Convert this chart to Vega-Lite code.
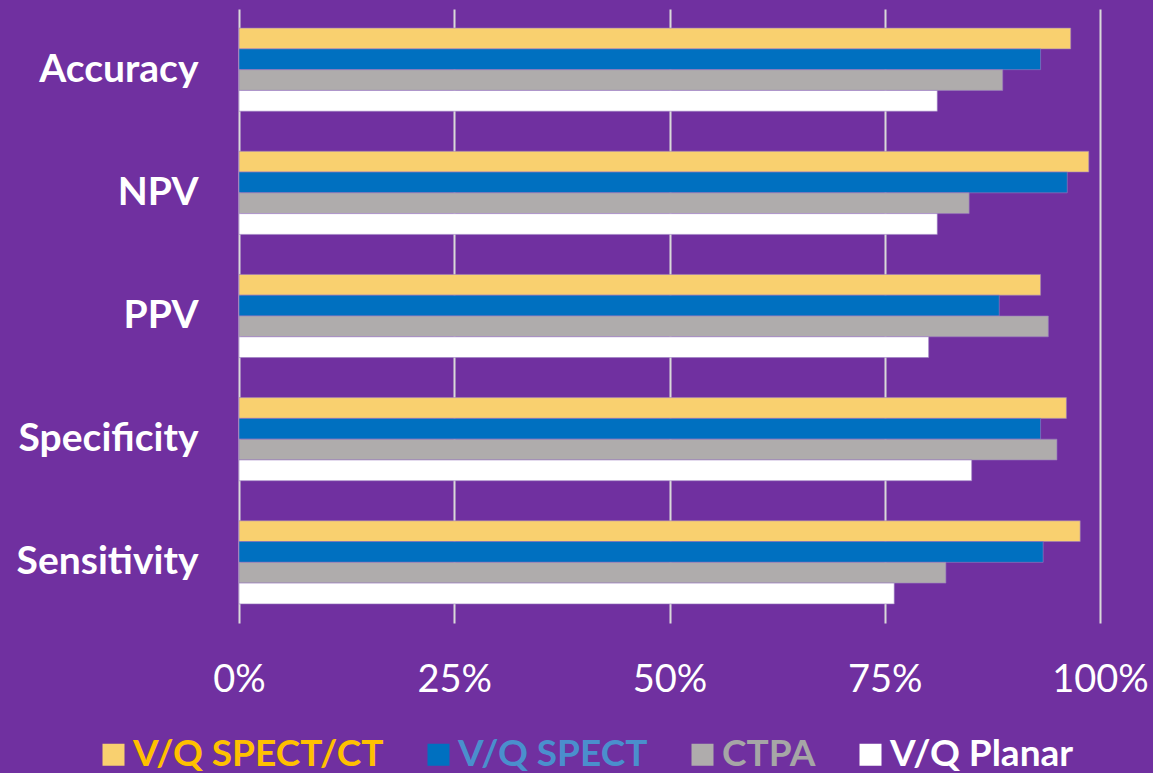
{
  "$schema": "https://vega.github.io/schema/vega-lite/v6.json",
  "width": 861,
  "height": 614,
  "autosize": {"type": "none"},
  "padding": {"left": 239, "top": 9, "right": 53, "bottom": 150},
  "background": "#7030A0",
  "config": {"view": {"stroke": null}, "font": "Lato"},
  "data": {"values": [
    {"metric": "Accuracy", "method": "V/Q SPECT/CT", "value": 0.966},
    {"metric": "Accuracy", "method": "V/Q SPECT", "value": 0.931},
    {"metric": "Accuracy", "method": "CTPA", "value": 0.887},
    {"metric": "Accuracy", "method": "V/Q Planar", "value": 0.811},
    {"metric": "NPV", "method": "V/Q SPECT/CT", "value": 0.987},
    {"metric": "NPV", "method": "V/Q SPECT", "value": 0.962},
    {"metric": "NPV", "method": "CTPA", "value": 0.848},
    {"metric": "NPV", "method": "V/Q Planar", "value": 0.811},
    {"metric": "PPV", "method": "V/Q SPECT/CT", "value": 0.931},
    {"metric": "PPV", "method": "V/Q SPECT", "value": 0.883},
    {"metric": "PPV", "method": "CTPA", "value": 0.940},
    {"metric": "PPV", "method": "V/Q Planar", "value": 0.801},
    {"metric": "Specificity", "method": "V/Q SPECT/CT", "value": 0.961},
    {"metric": "Specificity", "method": "V/Q SPECT", "value": 0.931},
    {"metric": "Specificity", "method": "CTPA", "value": 0.950},
    {"metric": "Specificity", "method": "V/Q Planar", "value": 0.851},
    {"metric": "Sensitivity", "method": "V/Q SPECT/CT", "value": 0.977},
    {"metric": "Sensitivity", "method": "V/Q SPECT", "value": 0.934},
    {"metric": "Sensitivity", "method": "CTPA", "value": 0.821},
    {"metric": "Sensitivity", "method": "V/Q Planar", "value": 0.761}
  ]},
  "mark": {"type": "bar", "stroke": "#9a7cc0", "strokeWidth": 0.6},
  "encoding": {
    "y": {
      "field": "metric", "type": "nominal",
      "sort": ["Accuracy", "NPV", "PPV", "Specificity", "Sensitivity"],
      "scale": {"paddingInner": 0.325, "paddingOuter": 0.155},
      "axis": {"title": null, "ticks": false, "domain": false, "labelPadding": 41, "labelLimit": 400,
               "labelFont": "Lato", "labelFontSize": 39, "labelFontWeight": "bold", "labelColor": "#ffffff"}
    },
    "yOffset": {
      "field": "method", "type": "nominal",
      "sort": ["V/Q SPECT/CT", "V/Q SPECT", "CTPA", "V/Q Planar"],
      "scale": {"paddingInner": 0, "paddingOuter": 0}
    },
    "x": {
      "field": "value", "type": "quantitative",
      "scale": {"domain": [0, 1], "nice": false},
      "axis": {"title": null, "values": [0, 0.25, 0.5, 0.75, 1], "format": ".0%", "ticks": false, "domain": false,
               "grid": true, "gridColor": "#d9d9d9", "gridWidth": 2, "labelPadding": 38,
               "labelFont": "Lato", "labelFontSize": 38, "labelColor": "#ffffff", "labelFlush": false}
    },
    "color": {
      "field": "method", "type": "nominal",
      "sort": ["V/Q SPECT/CT", "V/Q SPECT", "CTPA", "V/Q Planar"],
      "scale": {"domain": ["V/Q SPECT/CT", "V/Q SPECT", "CTPA", "V/Q Planar"],
                "range": ["#F9D06F", "#0070C0", "#AFACAC", "#FFFFFF"]},
      "legend": {
        "title": null, "orient": "none", "legendX": -144, "legendY": 727, "direction": "horizontal",
        "symbolType": "square", "symbolSize": 484, "symbolStrokeWidth": 0, "symbolOpacity": 1,
        "labelFont": "Lato", "labelFontSize": 37, "labelFontWeight": "bold", "labelLimit": 400,
        "labelColor": {"expr": "datum.value === 'V/Q SPECT/CT' ? '#FFC000' : datum.value === 'V/Q SPECT' ? '#4A8FCD' : datum.value === 'CTPA' ? '#A6A6A6' : '#FFFFFF'"},
        "labelOffset": 1, "columnPadding": 36
      }
    }
  }
}
